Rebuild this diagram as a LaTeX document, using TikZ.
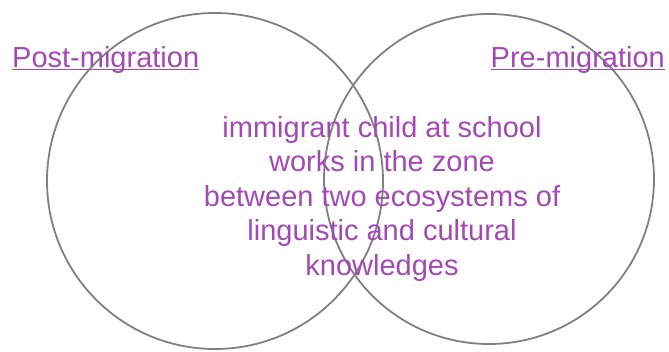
\documentclass[tikz,border=0pt]{standalone}
\usepackage{fontspec}
\setmainfont{Liberation Sans}
\definecolor{venngray}{RGB}{128,128,130}
\definecolor{vennpurple}{RGB}{163,73,180}
\begin{document}
\begin{tikzpicture}[x=1pt,y=-1pt,
    ring/.style={circle,draw=venngray,line width=1.8pt,inner sep=0pt},
    lbl/.style={text=vennpurple,inner sep=0pt,anchor=base,font=\fontsize{29}{34}\selectfont},
    uline/.style={draw=vennpurple,line width=1pt}]
  \useasboundingbox (0,0) rectangle (669,351);
  \node[ring,minimum size=336pt] (post) at (215,181) {};
  \node[ring,minimum size=330pt] (pre) at (489,179) {};
  \node[lbl,anchor=base west] (postlbl) at (12,67) {Post-migration};
  \node[lbl,anchor=base east] (prelbl) at (665,67) {Pre-migration};
  \draw[uline] ([yshift=-2.5pt]postlbl.base west) -- ([yshift=-2.5pt]postlbl.base east);
  \draw[uline] ([yshift=-2.5pt]prelbl.base west) -- ([yshift=-2.5pt]prelbl.base east);
  \node[lbl] (l1) at (382,137) {immigrant child at school};
  \node[lbl] (l2) at (382,171.5) {works in the zone};
  \node[lbl] (l3) at (382,206) {between two ecosystems of};
  \node[lbl] (l4) at (382,240.5) {linguistic and cultural};
  \node[lbl] (l5) at (382,275) {knowledges};
\end{tikzpicture}
\end{document}
